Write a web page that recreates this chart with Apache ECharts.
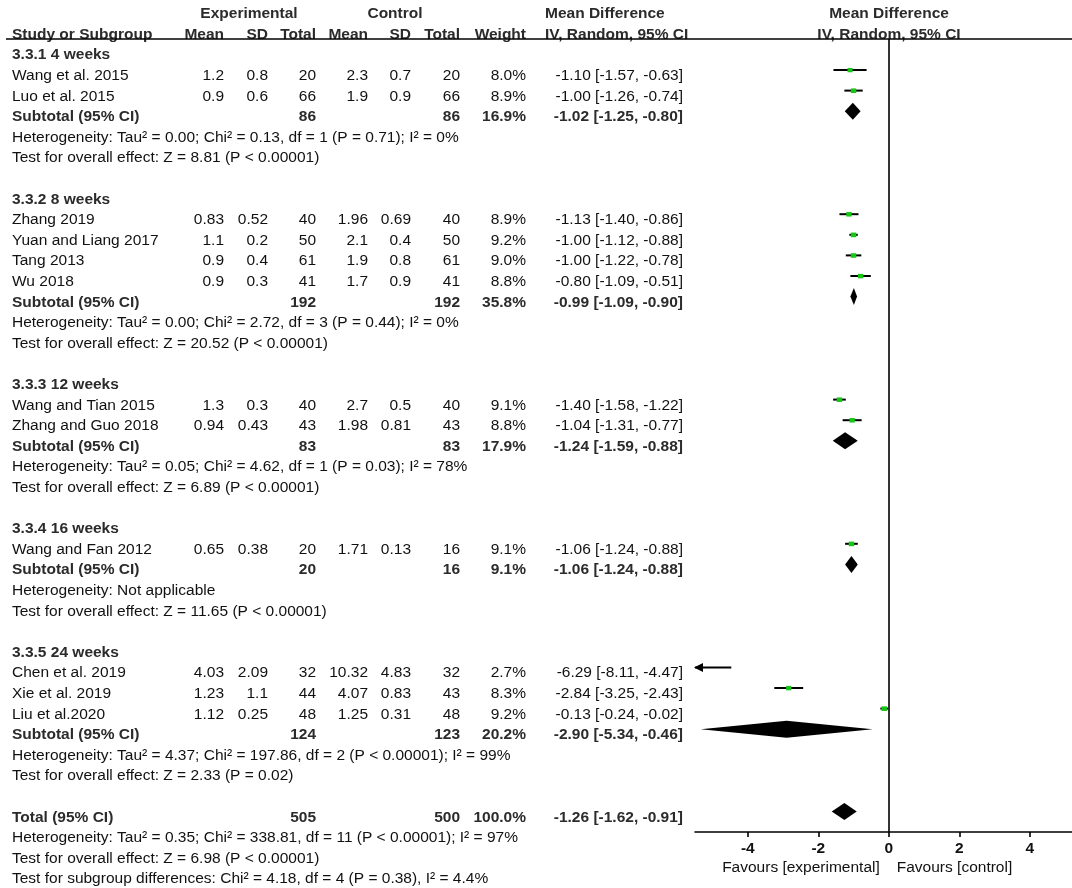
<!DOCTYPE html>
<html><head><meta charset="utf-8">
<script src="https://cdn.jsdelivr.net/npm/echarts@6/dist/echarts.min.js"></script>
<style>html,body{margin:0;padding:0;background:#fff}#c{width:1072px;height:888px}</style>
</head><body><div id="c"></div>
<script>
// ---------- DATA ----------
const groupTitles = ['3.3.1 4 weeks', '3.3.2 8 weeks', '3.3.3 12 weeks', '3.3.4 16 weeks', '3.3.5 24 weeks'];
const studyNames = ['Wang et al. 2015', 'Luo et al. 2015', 'Zhang 2019', 'Yuan and Liang 2017', 'Tang 2013', 'Wu 2018',
  'Wang and Tian 2015', 'Zhang and Guo 2018', 'Wang and Fan 2012', 'Chen et al. 2019', 'Xie et al. 2019', 'Liu et al.2020'];
const studyGroup = [0, 0, 1, 1, 1, 1, 2, 2, 3, 4, 4, 4];
const expMean = [1.2, 0.9, 0.83, 1.1, 0.9, 0.9, 1.3, 0.94, 0.65, 4.03, 1.23, 1.12];
const expSD = [0.8, 0.6, 0.52, 0.2, 0.4, 0.3, 0.3, 0.43, 0.38, 2.09, 1.1, 0.25];
const expN = [20, 66, 40, 50, 61, 41, 40, 43, 20, 32, 44, 48];
const ctlMean = [2.3, 1.9, 1.96, 2.1, 1.9, 1.7, 2.7, 1.98, 1.71, 10.32, 4.07, 1.25];
const ctlSD = [0.7, 0.9, 0.69, 0.4, 0.8, 0.9, 0.5, 0.81, 0.13, 4.83, 0.83, 0.31];
const ctlN = [20, 66, 40, 50, 61, 41, 40, 43, 16, 32, 43, 48];
const weight = [8.0, 8.9, 8.9, 9.2, 9.0, 8.8, 9.1, 8.8, 9.1, 2.7, 8.3, 9.2];
const md = [-1.10, -1.00, -1.13, -1.00, -1.00, -0.80, -1.40, -1.04, -1.06, -6.29, -2.84, -0.13];
const mdLo = [-1.57, -1.26, -1.40, -1.12, -1.22, -1.09, -1.58, -1.31, -1.24, -8.11, -3.25, -0.24];
const mdHi = [-0.63, -0.74, -0.86, -0.88, -0.78, -0.51, -1.22, -0.77, -0.88, -4.47, -2.43, -0.02];

const subExpN = [86, 192, 83, 20, 124];
const subCtlN = [86, 192, 83, 16, 123];
const subWeight = [16.9, 35.8, 17.9, 9.1, 20.2];
const subMd = [-1.02, -0.99, -1.24, -1.06, -2.90];
const subLo = [-1.25, -1.09, -1.59, -1.24, -5.34];
const subHi = [-0.80, -0.90, -0.88, -0.88, -0.46];
const groupHet = [
  'Heterogeneity: Tau² = 0.00; Chi² = 0.13, df = 1 (P = 0.71); I² = 0%',
  'Heterogeneity: Tau² = 0.00; Chi² = 2.72, df = 3 (P = 0.44); I² = 0%',
  'Heterogeneity: Tau² = 0.05; Chi² = 4.62, df = 1 (P = 0.03); I² = 78%',
  'Heterogeneity: Not applicable',
  'Heterogeneity: Tau² = 4.37; Chi² = 197.86, df = 2 (P < 0.00001); I² = 99%'];
const groupTest = [
  'Test for overall effect: Z = 8.81 (P < 0.00001)',
  'Test for overall effect: Z = 20.52 (P < 0.00001)',
  'Test for overall effect: Z = 6.89 (P < 0.00001)',
  'Test for overall effect: Z = 11.65 (P < 0.00001)',
  'Test for overall effect: Z = 2.33 (P = 0.02)'];

const totalExpN = 505, totalCtlN = 500, totalWeight = 100.0;
const totalMd = [-1.26, -1.62, -0.91];
const totalNotes = [
  'Heterogeneity: Tau² = 0.35; Chi² = 338.81, df = 11 (P < 0.00001); I² = 97%',
  'Test for overall effect: Z = 6.98 (P < 0.00001)',
  'Test for subgroup differences: Chi² = 4.18, df = 4 (P = 0.38), I² = 4.4%'];

const axisTicks = [-4, -2, 0, 2, 4];
const favourLabels = ['Favours [experimental]', 'Favours [control]'];

// ---------- LAYOUT ----------
const FONT = "'Liberation Sans', Arial, Helvetica, sans-serif";
const FS = 15.5;
const W = 1072, H = 888;
const ROW_TOP = 14, ROW_STEP = 20.6, PLOT_TOP_PX = 8.2;
const PLOT_LEFT = 695, PLOT_TOP = 39, PLOT_BOTTOM_PX = 832;
const XMIN = -5.5, XMAX = 5.2;
const COL = { name: 12, expMean: 224, expSD: 268, expN: 316, ctlMean: 368, ctlSD: 411, ctlN: 460,
  weight: 526, md: 683, mdHead: 545, expHead: 249, ctlHead: 395, plotHead: 889 };

function fmtCI(m, l, h) { return m.toFixed(2) + ' [' + l.toFixed(2) + ', ' + h.toFixed(2) + ']'; }

const items = [];
function T(row, x, text, align, bold) { items.push({ row, x, text: String(text), align, bold: !!bold }); }

// header
T(0, COL.expHead, 'Experimental', 'center', true);
T(0, COL.ctlHead, 'Control', 'center', true);
T(0, COL.mdHead, 'Mean Difference', 'left', true);
T(0, COL.plotHead, 'Mean Difference', 'center', true);
T(1, COL.name, 'Study or Subgroup', 'left', true);
T(1, COL.expMean, 'Mean', 'right', true);
T(1, COL.expSD, 'SD', 'right', true);
T(1, COL.expN, 'Total', 'right', true);
T(1, COL.ctlMean, 'Mean', 'right', true);
T(1, COL.ctlSD, 'SD', 'right', true);
T(1, COL.ctlN, 'Total', 'right', true);
T(1, COL.weight, 'Weight', 'right', true);
T(1, COL.mdHead, 'IV, Random, 95% CI', 'left', true);
T(1, COL.plotHead, 'IV, Random, 95% CI', 'center', true);

const studyPlot = [];
const diamondPlot = [];
let row = 2;
groupTitles.forEach((title, g) => {
  T(row, COL.name, title, 'left', true);
  studyNames.forEach((nm, i) => {
    if (studyGroup[i] !== g) return;
    row++;
    T(row, COL.name, nm, 'left');
    T(row, COL.expMean, expMean[i], 'right');
    T(row, COL.expSD, expSD[i], 'right');
    T(row, COL.expN, expN[i], 'right');
    T(row, COL.ctlMean, ctlMean[i], 'right');
    T(row, COL.ctlSD, ctlSD[i], 'right');
    T(row, COL.ctlN, ctlN[i], 'right');
    T(row, COL.weight, weight[i].toFixed(1) + '%', 'right');
    T(row, COL.md, fmtCI(md[i], mdLo[i], mdHi[i]), 'right');
    studyPlot.push([md[i], row, mdLo[i], mdHi[i], weight[i]]);
  });
  row++;
  T(row, COL.name, 'Subtotal (95% CI)', 'left', true);
  T(row, COL.expN, subExpN[g], 'right', true);
  T(row, COL.ctlN, subCtlN[g], 'right', true);
  T(row, COL.weight, subWeight[g].toFixed(1) + '%', 'right', true);
  T(row, COL.md, fmtCI(subMd[g], subLo[g], subHi[g]), 'right', true);
  diamondPlot.push([subMd[g], row, subLo[g], subHi[g]]);
  row++; T(row, COL.name, groupHet[g], 'left');
  row++; T(row, COL.name, groupTest[g], 'left');
  row += 2;
});
T(row, COL.name, 'Total (95% CI)', 'left', true);
T(row, COL.expN, totalExpN, 'right', true);
T(row, COL.ctlN, totalCtlN, 'right', true);
T(row, COL.weight, totalWeight.toFixed(1) + '%', 'right', true);
T(row, COL.md, fmtCI(totalMd[0], totalMd[1], totalMd[2]), 'right', true);
diamondPlot.push([totalMd[0], row, totalMd[1], totalMd[2]]);
totalNotes.forEach(n => { row++; T(row, COL.name, n, 'left'); });

// ---------- CHART ----------
const chart = echarts.init(document.getElementById('c'), null, { renderer: 'canvas' });
const textYMin = -ROW_TOP / ROW_STEP, textYMax = (H - ROW_TOP) / ROW_STEP;
const plotYMin = (PLOT_TOP - PLOT_TOP_PX) / ROW_STEP, plotYMax = (PLOT_BOTTOM_PX - PLOT_TOP_PX) / ROW_STEP;

chart.setOption({
  animation: false,
  backgroundColor: '#fff',
  grid: [
    { left: 0, right: 0, top: 0, bottom: 0, containLabel: false, outerBoundsMode: 'none' },
    { left: PLOT_LEFT, right: 0, top: PLOT_TOP, bottom: H - PLOT_BOTTOM_PX, containLabel: false, outerBoundsMode: 'none' }
  ],
  xAxis: [
    { gridIndex: 0, type: 'value', min: 0, max: W, show: false },
    { gridIndex: 1, type: 'value', min: XMIN, max: XMAX,
      axisLine: { show: true, onZero: false, lineStyle: { color: '#000', width: 1.6 } },
      axisTick: { show: true, customValues: axisTicks, length: 5, lineStyle: { color: '#000', width: 1.6 } },
      axisLabel: { show: true, customValues: axisTicks, fontFamily: FONT, fontSize: FS, fontWeight: 'bold', color: '#111', margin: 9 },
      splitLine: { show: false } }
  ],
  yAxis: [
    { gridIndex: 0, type: 'value', min: textYMin, max: textYMax, inverse: true, show: false },
    { gridIndex: 1, type: 'value', min: plotYMin, max: plotYMax, inverse: true, show: false }
  ],
  series: [
    { type: 'custom', xAxisIndex: 0, yAxisIndex: 0, silent: true,
      data: items.map(d => [d.x, d.row]),
      renderItem: function (params, api) {
        const d = items[params.dataIndex];
        const p = api.coord([d.x, d.row]);
        return { type: 'text', x: p[0], y: p[1],
          style: { text: d.text, align: d.align, verticalAlign: 'middle',
            font: (d.bold ? 'bold ' : '') + FS + 'px ' + FONT, fill: d.bold ? '#2b2b2b' : '#111' } };
      },
      markLine: { silent: true, symbol: 'none', label: { show: false },
        lineStyle: { color: '#000', width: 1.6, type: 'solid' },
        data: [[{ coord: [6, (PLOT_TOP - ROW_TOP) / ROW_STEP] }, { coord: [W, (PLOT_TOP - ROW_TOP) / ROW_STEP] }]] }
    },
    { type: 'custom', xAxisIndex: 1, yAxisIndex: 1, silent: true,
      data: studyPlot,
      renderItem: function (params, api) {
        const m = api.value(0), r = api.value(1), lo = api.value(2), hi = api.value(3), w = api.value(4);
        const y = api.coord([0, r])[1];
        const x1 = api.coord([Math.max(lo, XMIN), r])[0];
        const x2 = api.coord([Math.min(hi, XMAX), r])[0];
        const ch = [{ type: 'line', shape: { x1: x1, y1: y, x2: x2, y2: y }, style: { stroke: '#000', lineWidth: 2 } }];
        if (lo < XMIN) {
          ch.push({ type: 'polygon', shape: { points: [[x1 - 1, y], [x1 + 8, y - 4.5], [x1 + 8, y + 4.5]] }, style: { fill: '#000' } });
        }
        if (m >= XMIN && m <= XMAX) {
          const s = Math.sqrt(w) * 1.8;
          const c = api.coord([m, r]);
          ch.push({ type: 'rect', shape: { x: c[0] - s / 2, y: c[1] - s / 2 + 0.5, width: s, height: s * 0.85 }, style: { fill: '#14c814' } });
        }
        return { type: 'group', children: ch };
      },
      markLine: { silent: true, symbol: 'none', label: { show: false },
        lineStyle: { color: '#000', width: 1.6, type: 'solid' }, data: [{ xAxis: 0 }] }
    },
    { type: 'custom', xAxisIndex: 1, yAxisIndex: 1, silent: true,
      data: diamondPlot,
      renderItem: function (params, api) {
        const m = api.value(0), r = api.value(1), lo = api.value(2), hi = api.value(3);
        const c = api.coord([m, r]);
        const xl = api.coord([lo, r])[0], xh = api.coord([hi, r])[0];
        const h = 8.5;
        return { type: 'polygon', shape: { points: [[xl, c[1]], [c[0], c[1] - h], [xh, c[1]], [c[0], c[1] + h]] },
          style: { fill: '#000' } };
      }
    },
    { type: 'custom', xAxisIndex: 1, yAxisIndex: 1, silent: true, clip: false,
      data: [[0, plotYMax]],
      renderItem: function (params, api) {
        const p = api.coord([0, plotYMax]);
        return { type: 'group', children: [
          { type: 'text', x: p[0] - 9, y: p[1] + 36, style: { text: favourLabels[0], align: 'right', verticalAlign: 'middle', font: FS + 'px ' + FONT, fill: '#111' } },
          { type: 'text', x: p[0] + 8, y: p[1] + 36, style: { text: favourLabels[1], align: 'left', verticalAlign: 'middle', font: FS + 'px ' + FONT, fill: '#111' } }
        ] };
      }
    }
  ]
});
</script>
</body></html>
